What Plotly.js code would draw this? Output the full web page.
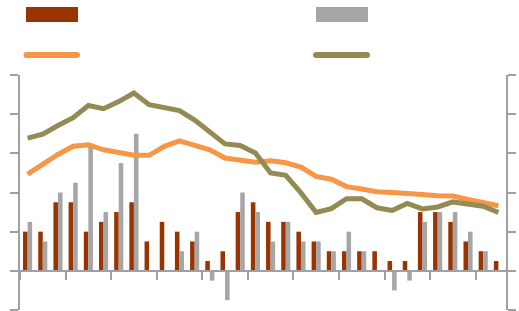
<!DOCTYPE html>
<html>
<head>
<meta charset="utf-8">
<script src="https://cdn.plot.ly/plotly-3.0.1.min.js"></script>
<style>html,body{margin:0;padding:0;background:#fff;}#chart{width:519px;height:311px;}</style>
</head>
<body>
<div id="chart"></div>
<script>
// 32 periods (index positions)
var periods = [1,2,3,4,5,6,7,8,9,10,11,12,13,14,15,16,17,18,19,20,21,22,23,24,25,26,27,28,29,30,31,32];

// Bar series (left axis)
var barSeriesA = [4,4,7,7,4,5,6,7,3,5,4,3,1,2,6,7,5,5,4,3,2,2,2,2,1,1,6,6,5,3,2,1];
var barSeriesB = [5,3,8,9,13,6,11,14,0,0,2,4,-1,-3,8,6,3,5,3,3,2,4,2,0,-2,-1,5,6,6,4,2,0];

// Line series (right axis)
var lineSeriesA = [2.47,2.73,2.97,3.18,3.22,3.09,3.01,2.95,2.95,3.18,3.32,3.21,3.09,2.88,2.81,2.77,
                   2.81,2.76,2.65,2.41,2.34,2.15,2.09,2.02,2.00,1.96,1.95,1.92,1.91,1.82,1.75,1.66];
var lineSeriesB = [3.39,3.49,3.71,3.91,4.22,4.14,4.32,4.54,4.24,4.15,4.09,3.85,3.56,3.24,3.20,3.01,
                   2.50,2.44,1.99,1.49,1.59,1.84,1.84,1.61,1.54,1.72,1.58,1.63,1.76,1.71,1.65,1.49];

var names = ['Series A', 'Series B', 'Series C', 'Series D'];

var xIdx = periods.map(function(p, i){ return i; });

var AX = '#A0A0A0';
var C_BAR_A = '#993300', C_BAR_B = '#A6A6A6', C_LINE_A = '#F79646', C_LINE_B = '#948A54';

var traces = [
  {type:'bar', x:xIdx, y:barSeriesA, name:names[0], marker:{color:C_BAR_A, line:{width:0}}, showlegend:false, hoverinfo:'skip'},
  {type:'bar', x:xIdx, y:barSeriesB, name:names[1], marker:{color:C_BAR_B, line:{width:0}}, showlegend:false, hoverinfo:'skip'},
  {type:'scatter', mode:'lines', x:xIdx, y:lineSeriesA, yaxis:'y2', name:names[2], line:{color:C_LINE_A, width:5}, showlegend:false, hoverinfo:'skip'},
  {type:'scatter', mode:'lines', x:xIdx, y:lineSeriesB, yaxis:'y2', name:names[3], line:{color:C_LINE_B, width:5}, showlegend:false, hoverinfo:'skip'}
];

// legend geometry in pixels -> paper coords
var PL = 20, PW = 486, PB = 310, PH = 235;
function px(x){ return (x - PL) / PW; }
function py(y){ return (PB - y) / PH; }

function legendLine(x0, x1, y, color){
  var out = [{type:'line', xref:'paper', yref:'paper', x0:px(x0), x1:px(x1), y0:py(y), y1:py(y), line:{color:color, width:6}}];
  [x0, x1].forEach(function(xx){
    out.push({type:'circle', xref:'paper', yref:'paper', xsizemode:'pixel', ysizemode:'pixel',
      xanchor:px(xx), yanchor:py(y), x0:-3, x1:3, y0:-3, y1:3, fillcolor:color, line:{width:0}});
  });
  return out;
}

var shapes = [
  {type:'rect', xref:'paper', yref:'paper', x0:px(26), x1:px(78), y0:py(22), y1:py(7), fillcolor:C_BAR_A, line:{width:0}},
  {type:'rect', xref:'paper', yref:'paper', x0:px(316), x1:px(368), y0:py(22), y1:py(7), fillcolor:C_BAR_B, line:{width:0}}
].concat(legendLine(26.5, 77, 55, C_LINE_A)).concat(legendLine(316, 367, 55, C_LINE_B));

var axisCommon = {showgrid:false, zeroline:false, showticklabels:false, showline:true, linecolor:AX, linewidth:2,
  ticks:'outside', ticklen:8, tickwidth:2, tickcolor:AX, fixedrange:true};

var layout = {
  width:519, height:311,
  margin:{l:20, r:13, t:75, b:1, pad:0},
  paper_bgcolor:'#ffffff', plot_bgcolor:'rgba(0,0,0,0)',
  showlegend:false,
  barmode:'group', bargap:0.4, bargroupgap:0,
  xaxis:Object.assign({}, axisCommon, {range:[-0.5, 31.5], tickmode:'linear', tick0:-0.5, dtick:3,
    anchor:'free', position:1/6}),
  yaxis:Object.assign({}, axisCommon, {range:[-4, 20], tickmode:'linear', tick0:-4, dtick:4, side:'left'}),
  yaxis2:Object.assign({}, axisCommon, {range:[-1, 5], tickmode:'linear', tick0:-1, dtick:1, side:'right', overlaying:'y'}),
  shapes:shapes
};

Plotly.newPlot('chart', traces, layout, {displayModeBar:false, staticPlot:true});
</script>
</body>
</html>
